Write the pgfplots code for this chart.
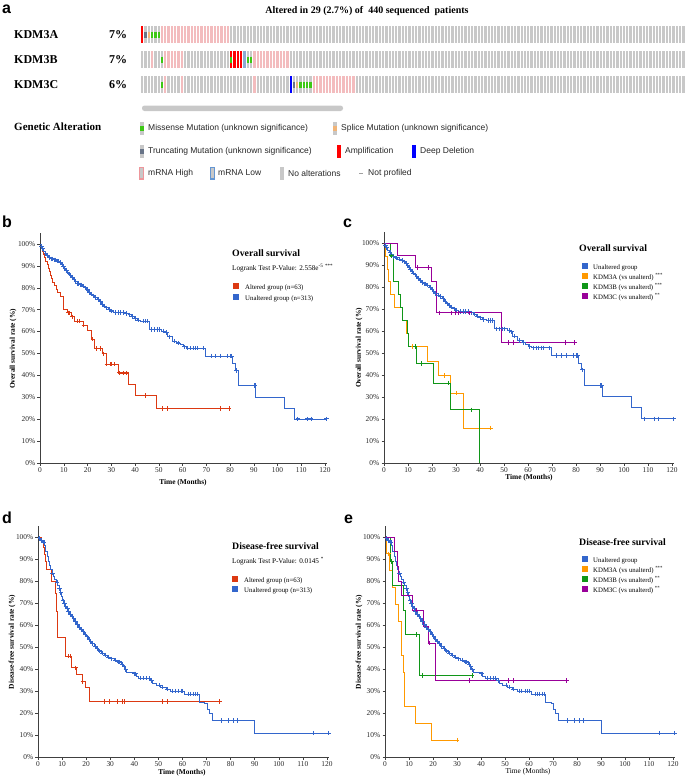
\documentclass[border=0pt]{standalone}
\usepackage{fontspec}
\setmainfont{Liberation Serif}
\setsansfont{Liberation Sans}
\usepackage{pgfplots}
\pgfplotsset{compat=1.18}
\usepackage{pgfplotstable}

\definecolor{kmblue}{RGB}{51,102,204}
\definecolor{kmred}{RGB}{220,57,18}
\definecolor{kmorange}{RGB}{255,153,0}
\definecolor{kmgreen}{RGB}{16,150,24}
\definecolor{kmpurple}{RGB}{153,0,153}
\definecolor{opgray}{RGB}{200,200,200}
\definecolor{oppink}{RGB}{243,188,190}
\definecolor{oppinkb}{RGB}{238,150,155}
\definecolor{opgreen}{RGB}{60,200,20}
\definecolor{optrunc}{RGB}{104,116,136}
\definecolor{opsplice}{RGB}{240,180,120}
\definecolor{opamp}{RGB}{255,0,0}
\definecolor{opdel}{RGB}{0,0,255}
\definecolor{oplow}{RGB}{140,170,210}
\definecolor{oplowb}{RGB}{100,150,210}

% ---------- oncoprint samples (x index, y centre of the row) ----------
\pgfplotstableread[row sep=\\]{x y\\
0 .5\\1 .5\\2 .5\\3 .5\\4 .5\\5 .5\\6 .5\\7 .5\\8 .5\\9 .5\\
10 .5\\11 .5\\12 .5\\13 .5\\14 .5\\15 .5\\16 .5\\17 .5\\18 .5\\19 .5\\
20 .5\\21 .5\\22 .5\\23 .5\\24 .5\\25 .5\\26 .5\\27 .5\\28 .5\\29 .5\\
30 .5\\31 .5\\32 .5\\33 .5\\34 .5\\35 .5\\36 .5\\37 .5\\38 .5\\39 .5\\
40 .5\\41 .5\\42 .5\\43 .5\\44 .5\\45 .5\\46 .5\\47 .5\\48 .5\\49 .5\\
50 .5\\51 .5\\52 .5\\53 .5\\54 .5\\55 .5\\56 .5\\57 .5\\58 .5\\59 .5\\
60 .5\\61 .5\\62 .5\\63 .5\\64 .5\\65 .5\\66 .5\\67 .5\\68 .5\\69 .5\\
70 .5\\71 .5\\72 .5\\73 .5\\74 .5\\75 .5\\76 .5\\77 .5\\78 .5\\79 .5\\
80 .5\\81 .5\\82 .5\\83 .5\\84 .5\\85 .5\\86 .5\\87 .5\\88 .5\\89 .5\\
90 .5\\91 .5\\92 .5\\93 .5\\94 .5\\95 .5\\96 .5\\97 .5\\98 .5\\99 .5\\
100 .5\\101 .5\\102 .5\\103 .5\\104 .5\\105 .5\\106 .5\\107 .5\\108 .5\\109 .5\\
110 .5\\111 .5\\112 .5\\113 .5\\114 .5\\115 .5\\116 .5\\117 .5\\118 .5\\119 .5\\
120 .5\\121 .5\\122 .5\\123 .5\\124 .5\\125 .5\\126 .5\\127 .5\\128 .5\\129 .5\\
130 .5\\131 .5\\132 .5\\133 .5\\134 .5\\135 .5\\136 .5\\137 .5\\138 .5\\139 .5\\
140 .5\\141 .5\\142 .5\\143 .5\\144 .5\\145 .5\\146 .5\\147 .5\\148 .5\\149 .5\\
150 .5\\151 .5\\152 .5\\153 .5\\154 .5\\155 .5\\156 .5\\157 .5\\158 .5\\159 .5\\
160 .5\\161 .5\\162 .5\\163 .5\\164 .5\\
}\samp

% ---------- Overall survival ----------
\pgfplotstableread{
x y
0 100
0.4 99.0
0.9 98.0
1.5 96.8
2.2 95.6
2.9 94.6
3.6 93.8
4.6 93.2
5.8 92.7
7.0 92.1
8.2 91.5
9.0 90.6
9.6 89.7
10.2 88.8
10.8 88.0
11.4 87.1
12.0 86.3
12.7 85.5
13.4 84.6
14.1 83.7
14.8 82.8
15.6 82.0
16.6 81.4
17.8 80.8
18.8 80.0
19.6 79.0
20.4 78.0
21.2 77.1
22.0 76.3
23.0 75.6
24.2 74.8
25.2 73.6
25.9 72.4
26.8 71.6
27.8 70.8
28.8 70.1
29.8 69.4
31.0 68.8
36.0 68.3
37.2 67.6
38.4 66.8
39.6 66.0
41.0 65.2
42.5 64.7
46.2 61.0
51.3 60.2
52.8 59.6
53.6 57.6
55.8 55.6
57.5 54.8
59.0 53.9
60.2 53.0
61.5 52.4
69.6 48.8
81.2 45.4
82.2 42.3
83.5 35.3
90.9 30.1
102.9 25.1
107.3 20.1
120.7 20.1
}\bos
\pgfplotstableread{
x y
0.7 99.0
1.2 98.0
2.5 95.6
3.2 94.6
4.0 93.8
5.0 93.2
5.4 93.2
6.3 92.7
6.6 92.7
7.5 92.1
7.8 92.1
8.6 91.5
9.3 90.6
9.9 89.7
10.5 88.8
11.1 88.0
11.7 87.1
12.3 86.3
13.0 85.5
13.7 84.6
14.4 83.7
15.1 82.8
15.9 82.0
16.2 82.0
17.0 81.4
17.4 81.4
18.3 80.8
19.2 80.0
20.0 79.0
20.8 78.0
21.6 77.1
22.5 76.3
23.5 75.6
24.6 74.8
25.5 73.6
26.3 72.4
27.2 71.6
28.2 70.8
29.3 70.1
30.3 69.4
31.8 68.8
33.0 68.8
34.0 68.8
35.0 68.8
36.5 68.3
37.8 67.6
38.9 66.8
40.2 66.0
41.5 65.2
43.5 64.7
44.5 64.7
45.3 64.7
47.0 61.0
48.2 61.0
49.4 61.0
50.4 61.0
52.2 60.2
53.2 59.6
54.5 57.6
56.5 55.6
58.2 54.8
60.8 53.0
62.3 52.4
63.5 52.4
64.5 52.4
65.5 52.4
66.5 52.4
68.8 52.4
72.0 48.8
74.0 48.8
76.2 48.8
79.0 48.8
80.0 48.8
80.7 48.8
82.7 42.3
90.3 35.3
90.6 35.3
108.6 20.1
112.6 20.1
114.2 20.1
120.7 20.1
}\bosc
\pgfplotstableread{
x y
0 100
0.5 98.4
1.0 96.8
1.5 95.2
2.0 93.7
2.5 92.1
3.0 90.5
3.4 88.9
3.8 87.3
4.3 85.7
4.8 84.1
5.4 82.5
6.0 80.9
6.8 79.4
7.4 77.8
8.6 76.2
10.0 70.2
11.6 68.6
13.4 66.7
14.3 64.7
18.2 62.9
20.0 60.6
21.8 56.5
23.0 52.2
26.4 49.9
27.8 45.1
33.0 41.1
37.3 35.9
40.1 30.9
49.0 24.8
79.6 24.8
}\ros
\pgfplotstableread{
x y
12.0 68.6
12.6 68.6
13.7 66.7
15.6 64.7
16.5 64.7
18.5 62.9
22.3 56.5
23.7 52.2
25.4 52.2
26.9 49.9
28.1 45.1
29.5 45.1
30.2 45.1
31.2 45.1
33.4 41.1
35.3 41.1
36.4 41.1
44.4 30.9
51.5 24.8
53.8 24.8
76.1 24.8
79.6 24.8
}\rosc
\pgfplotstableread{
x y
0 100
0.8 94.1
1.5 88.2
2.0 82.4
2.5 76.5
4.5 70.6
7.6 64.7
9.3 58.8
10.1 52.9
18.0 46.3
22.5 39.7
27.6 31.8
32.9 15.9
44.4 15.9
}\oos
\pgfplotstableread{
x y
12.0 52.9
25.0 39.7
30.0 31.8
44.4 15.9
}\oosc
\pgfplotstableread{
x y
0 100
2.6 94.1
3.8 82.3
6.1 76.5
7.0 70.6
7.8 64.7
9.8 58.8
10.1 52.9
13.6 45.3
20.7 36.3
27.6 24.2
39.9 0
}\gos
\pgfplotstableread{
x y
3.2 94.1
13.0 52.9
15.8 45.3
27.0 36.3
36.3 24.2
}\gosc
\pgfplotstableread{
x y
0 100
5.8 94.4
13.1 88.9
19.7 82.3
21.8 68.3
48.9 54.7
79.4 54.7
}\pos
\pgfplotstableread{
x y
13.75 88.9
18.6 88.9
23.0 68.3
28.0 68.3
29.7 68.3
31.1 68.3
35.6 68.3
51.7 54.7
53.9 54.7
75.6 54.7
79.4 54.7
}\posc

% ---------- Disease-free survival ----------
\pgfplotstableread{
x y
0 100
0.6 99.3
1.2 98.6
2.0 97.6
2.8 96.0
3.3 93.5
3.8 91.0
4.3 89.0
4.8 87.0
5.3 85.2
5.8 83.6
6.4 82.2
7.0 80.8
7.6 79.5
8.2 78.0
8.8 76.6
9.3 74.8
9.8 72.8
10.2 71.0
10.7 69.8
11.3 68.6
11.9 67.4
12.5 66.2
13.0 64.8
13.8 63.8
14.6 62.8
15.3 61.6
16.0 60.2
16.8 59.0
17.6 57.8
18.4 57.0
19.2 55.8
20.0 54.6
20.8 53.5
21.6 52.4
22.4 51.4
23.3 50.3
24.2 49.3
25.2 48.2
26.4 47.2
27.6 46.3
28.8 45.4
30.0 44.6
31.6 44.0
33.0 43.2
34.6 42.2
35.4 41.0
36.2 39.6
36.8 38.6
39.8 37.8
40.8 36.8
41.8 35.8
46.6 34.8
47.6 33.6
49.0 32.6
51.0 31.8
53.2 30.8
55.2 30.0
61.0 28.6
67.0 25.0
69.2 24.2
70.2 21.8
71.0 19.6
72.4 16.6
90.0 10.9
120.7 10.9
}\bdfs
\pgfplotstableread{
x y
0.8 99.3
1.4 98.6
2.2 97.6
2.6 97.6
6.0 83.6
7.9 79.5
9.0 76.6
9.5 74.8
10.5 71.0
11.0 69.8
11.6 68.6
12.2 67.4
12.7 66.2
13.4 64.8
14.2 63.8
14.9 62.8
15.6 61.6
16.4 60.2
17.2 59.0
18.0 57.8
18.8 57.0
19.6 55.8
20.4 54.6
21.2 53.5
22.0 52.4
22.8 51.4
23.7 50.3
24.6 49.3
25.7 48.2
26.8 47.2
28.0 46.3
29.3 45.4
30.6 44.6
32.2 44.0
33.5 43.2
34.0 43.2
35.0 42.2
35.8 41.0
36.5 39.6
40.0 37.8
40.5 37.8
42.5 35.8
44.0 35.8
45.0 35.8
46.2 35.8
47.2 34.8
50.5 32.6
51.8 31.8
53.6 30.8
56.0 30.0
57.0 30.0
58.5 30.0
59.5 30.0
60.0 30.0
62.5 28.6
63.5 28.6
64.5 28.6
65.5 28.6
66.3 28.6
76.2 16.6
79.0 16.6
81.0 16.6
82.8 16.6
114.2 10.9
120.7 10.9
}\bdfsc
\pgfplotstableread{
x y
0 100
1.5 98.4
2.2 95.2
2.8 91.9
3.2 88.7
3.6 85.2
5.4 79.8
7.2 74.3
7.5 70.5
7.8 66.2
8.0 61.5
8.2 54.4
11.4 45.8
13.7 40.5
15.9 37.4
18.3 34.4
19.9 31.4
21.3 25.3
75.3 25.3
}\rdfs
\pgfplotstableread{
x y
12.7 45.8
13.3 45.8
15.5 40.5
18.6 34.4
27.6 25.3
29.6 25.3
33.1 25.3
34.9 25.3
35.9 25.3
51.5 25.3
53.6 25.3
75.3 25.3
}\rdfsc
\pgfplotstableread{
x y
0 100
0.8 92.3
1.8 84.6
3.3 76.9
4.5 69.2
5.6 61.5
6.9 46.2
7.5 38.5
7.9 30.8
8.3 23.1
12.8 15.4
19.5 7.7
30.0 7.7
}\odfs
\pgfplotstableread{
x y
1.5 92.3
30.0 7.7
}\odfsc
\pgfplotstableread{
x y
0 100
2.4 88.9
3.2 77.8
7.6 66.7
8.5 55.6
14.2 37.0
36.3 37.0
}\gdfs
\pgfplotstableread{
x y
2.9 88.9
13.1 55.6
15.6 37.0
36.3 37.0
}\gdfsc
\pgfplotstableread{
x y
0 100
3.8 93.3
5.2 86.7
5.8 80.0
6.8 73.3
11.4 66.7
15.9 59.3
18.3 51.8
21.2 34.8
75.8 34.8
}\pdfs
\pgfplotstableread{
x y
13.3 66.7
18.7 51.8
35.0 34.8
51.5 34.8
53.6 34.8
75.8 34.8
}\pdfsc

\pgfplotsset{
  onc/.style={scale only axis, hide axis, anchor=south west, width=544pt, height=17pt,
    xmin=-0.364, xmax=164.49, ymin=0, ymax=1},
  full/.style={only marks, mark=|, mark size=8.5pt, color=#1, mark options={line width=2.3pt}},
  mid/.style={only marks, mark=|, mark size=3pt, color=#1, mark options={line width=2.3pt}},
  km/.style={scale only axis, anchor=south west, axis x line*=bottom, axis y line*=left,
    xmin=0, xmax=121, ymin=0, ymax=105, xtick={0,10,...,120}, ytick={0,10,...,100},
    yticklabel={\pgfmathprintnumber{\tick}\%},
    /pgf/number format/assume math mode=true,
    tick align=outside, major tick length=2.5pt,
    every tick/.style={black!75, line width=0.5pt},
    axis line style={black!75, line width=0.6pt},
    tick label style={font=\fontsize{7.4}{8}\selectfont, text=black!85},
    xticklabel style={inner sep=1.5pt}, yticklabel style={inner sep=2pt}},
  kmline/.style={const plot, mark=none, line width=0.9pt, color=#1},
  kmcens/.style={only marks, mark=+, mark size=2.2pt, color=#1, mark options={line width=1pt}},
}

\newcommand{\sq}[1]{\textcolor{#1}{\rule{6pt}{6pt}}}
\newcommand{\swmid}[1]{\rlap{\textcolor{opgray}{\rule{4pt}{13pt}}}\raisebox{4pt}{\textcolor{#1}{\rule{4pt}{5pt}}}}
\newcommand{\swfull}[1]{\textcolor{#1}{\rule{4pt}{13pt}}}
\newcommand{\swbox}[1]{{\setlength{\fboxsep}{0pt}\setlength{\fboxrule}{1.2pt}\fcolorbox{#1}{opgray}{\rule{0pt}{10.6pt}\rule{2.6pt}{0pt}}}}

\begin{document}
\begin{tikzpicture}[x=1pt,y=-1pt]
\useasboundingbox (0,0) rectangle (685,780);

% ================= panel a =================
\node[anchor=base west, inner sep=0, font=\sffamily\bfseries\fontsize{16}{16}\selectfont] at (2,13) {a};
\node[anchor=base, inner sep=0, font=\bfseries\fontsize{10}{12}\selectfont] at (367,13.5) {Altered in 29 (2.7\%) of\ \ 440 sequenced\ \ patients};

\begin{scope}[every node/.style={anchor=west, inner sep=0, font=\bfseries\fontsize{12}{14}\selectfont}]
\node at (14,34.5) {KDM3A};
\node at (14,59.5) {KDM3B};
\node at (14,84.5) {KDM3C};
\node at (109,34.5) {7\%};
\node at (109,59.5) {7\%};
\node at (109,84.5) {6\%};
\end{scope}

% row KDM3A
\begin{axis}[onc, at={(141pt,-43pt)}]
\addplot[full=opgray] table {\samp};
\addplot[full=opamp] coordinates {(0,.5)};
\addplot[full=oppink] coordinates {(6,.5)(7,.5)(8,.5)(9,.5)(10,.5)(11,.5)(12,.5)(13,.5)(14,.5)(15,.5)(16,.5)(17,.5)(18,.5)(19,.5)(20,.5)(21,.5)(22,.5)(23,.5)(24,.5)(25,.5)(26,.5)};
\addplot[mid=optrunc] coordinates {(1,.5)};
\addplot[mid=opsplice] coordinates {(2,.5)};
\addplot[mid=opgreen] coordinates {(3,.5)(4,.5)(5,.5)};
\end{axis}
% row KDM3B
\begin{axis}[onc, at={(141pt,-68pt)}]
\addplot[full=opgray] table {\samp};
\addplot[full=oppink] coordinates {(3,.5)(7,.5)(8,.5)(9,.5)(10,.5)(11,.5)(12,.5)(34,.5)(35,.5)(36,.5)(37,.5)(38,.5)(39,.5)(40,.5)(41,.5)(42,.5)(43,.5)(44,.5)};
\addplot[full=opamp] coordinates {(27,.5)(28,.5)(29,.5)(30,.5)};
\addplot[full=oplow] coordinates {(31,.5)};
\addplot[mid=opgreen] coordinates {(6,.5)(27,.5)(32,.5)(33,.5)};
\end{axis}
% row KDM3C
\begin{axis}[onc, at={(141pt,-93pt)}]
\addplot[full=opgray] table {\samp};
\addplot[full=oppink] coordinates {(7,.5)(12,.5)(34,.5)(52,.5)(53,.5)(54,.5)(55,.5)(56,.5)(57,.5)(58,.5)(59,.5)(60,.5)(61,.5)(62,.5)(63,.5)(64,.5)};
\addplot[full=opdel] coordinates {(45,.5)};
\addplot[mid=optrunc] coordinates {(46,.5)};
\addplot[mid=opsplice] coordinates {(47,.5)};
\addplot[mid=opgreen] coordinates {(6,.5)(48,.5)(49,.5)(50,.5)(51,.5)};
\end{axis}

% scrollbar
\fill[opgray, rounded corners=2.5pt] (142,105.5) rectangle (343,111);

% legend of panel a
\node[anchor=west, inner sep=0, font=\bfseries\fontsize{11}{13}\selectfont] at (14,127) {Genetic Alteration};
\begin{scope}[every node/.style={anchor=west, inner sep=0, font=\sffamily\fontsize{8.5}{10}\selectfont, text=black!85}]
\node at (140,128) {\swmid{opgreen}};
\node at (148,128) {Missense Mutation (unknown significance)};
\node at (333,128) {\swmid{opsplice}};
\node at (341,128) {Splice Mutation (unknown significance)};
\node at (140,151) {\swmid{optrunc}};
\node at (148,151) {Truncating Mutation (unknown significance)};
\node at (337,151) {\swfull{opamp}};
\node at (345,151) {Amplification};
\node at (412,151) {\swfull{opdel}};
\node at (420,151) {Deep Deletion};
\node at (139,173) {\swbox{oppinkb}};
\node at (148,173) {mRNA High};
\node at (210,173) {\swbox{oplowb}};
\node at (218,173) {mRNA Low};
\node at (280,173) {\swfull{opgray}};
\node at (288,173) {No alterations};
\node at (359,173) {\textcolor{opgray!80!black}{\rule{4pt}{0.8pt}}};
\node at (368,173) {Not profiled};
\end{scope}

% ================= panel b =================
\node[anchor=base west, inner sep=0, font=\sffamily\bfseries\fontsize{16}{16}\selectfont] at (2,227) {b};
\begin{axis}[km, at={(40pt,-463pt)}, width=287.4pt, height=230pt]
\addplot[kmline=kmred] table {\ros};
\addplot[kmline=kmblue] table {\bos};
\addplot[kmcens=kmred] table {\rosc};
\addplot[kmcens=kmblue] table {\bosc};
\end{axis}
\node[rotate=90, inner sep=0, font=\bfseries\fontsize{7.4}{9}\selectfont] at (13,349) {Overall survival rate (\%)};
\node[inner sep=0, font=\bfseries\fontsize{7.4}{9}\selectfont] at (183,483) {Time (Months)};
\node[anchor=west, inner sep=0, font=\bfseries\fontsize{9.8}{11}\selectfont] at (232,253) {Overall survival};
\node[anchor=west, inner sep=0, font=\fontsize{7.2}{9}\selectfont] at (232,268) {Logrank Test P-Value: 2.558e\textsuperscript{-5} \textsuperscript{***}};
\node[anchor=west, inner sep=0, font=\fontsize{6.8}{8}\selectfont] at (233,287) {\sq{kmred}\hspace{6pt}Altered group (n=63)};
\node[anchor=west, inner sep=0, font=\fontsize{6.8}{8}\selectfont] at (233,298) {\sq{kmblue}\hspace{6pt}Unaltered group (n=313)};

% ================= panel c =================
\node[anchor=base west, inner sep=0, font=\sffamily\bfseries\fontsize{16}{16}\selectfont] at (343,227) {c};
\begin{axis}[km, at={(384pt,-463pt)}, width=290.4pt, height=231pt]
\addplot[kmline=kmblue] table {\bos};
\addplot[kmline=kmorange] table {\oos};
\addplot[kmline=kmgreen] table {\gos};
\addplot[kmline=kmpurple] table {\pos};
\addplot[kmcens=kmblue] table {\bosc};
\addplot[kmcens=kmorange] table {\oosc};
\addplot[kmcens=kmgreen] table {\gosc};
\addplot[kmcens=kmpurple] table {\posc};
\end{axis}
\node[rotate=90, inner sep=0, font=\bfseries\fontsize{7.4}{9}\selectfont] at (359,348) {Overall survival rate (\%)};
\node[inner sep=0, font=\bfseries\fontsize{7.4}{9}\selectfont] at (529,478) {Time (Months)};
\node[anchor=west, inner sep=0, font=\bfseries\fontsize{9.8}{11}\selectfont] at (579,248) {Overall survival};
\begin{scope}[every node/.style={anchor=west, inner sep=0, font=\fontsize{6.8}{8}\selectfont}]
\node at (582,267) {\sq{kmblue}\hspace{5pt}Unaltered group};
\node at (582,277) {\sq{kmorange}\hspace{5pt}KDM3A (vs unalterd) \textsuperscript{***}};
\node at (582,287) {\sq{kmgreen}\hspace{5pt}KDM3B (vs unalterd) \textsuperscript{***}};
\node at (582,297) {\sq{kmpurple}\hspace{5pt}KDM3C (vs unalterd) \textsuperscript{**}};
\end{scope}

% ================= panel d =================
\node[anchor=base west, inner sep=0, font=\sffamily\bfseries\fontsize{16}{16}\selectfont] at (2,523) {d};
\begin{axis}[km, at={(38pt,-757pt)}, width=291.4pt, height=231pt]
\addplot[kmline=kmred] table {\rdfs};
\addplot[kmline=kmblue] table {\bdfs};
\addplot[kmcens=kmred] table {\rdfsc};
\addplot[kmcens=kmblue] table {\bdfsc};
\end{axis}
\node[rotate=90, inner sep=0, font=\bfseries\fontsize{7.4}{9}\selectfont] at (12,642) {Disease-free survival rate (\%)};
\node[inner sep=0, font=\bfseries\fontsize{7.4}{9}\selectfont] at (182,773) {Time (Months)};
\node[anchor=west, inner sep=0, font=\bfseries\fontsize{9.8}{11}\selectfont] at (232,546) {Disease-free survival};
\node[anchor=west, inner sep=0, font=\fontsize{7.2}{9}\selectfont] at (232,561) {Logrank Test P-Value: 0.0145 \textsuperscript{*}};
\node[anchor=west, inner sep=0, font=\fontsize{6.8}{8}\selectfont] at (232,580) {\sq{kmred}\hspace{6pt}Altered group (n=63)};
\node[anchor=west, inner sep=0, font=\fontsize{6.8}{8}\selectfont] at (232,590) {\sq{kmblue}\hspace{6pt}Unaltered group (n=313)};

% ================= panel e =================
\node[anchor=base west, inner sep=0, font=\sffamily\bfseries\fontsize{16}{16}\selectfont] at (344,523) {e};
\begin{axis}[km, at={(385pt,-757pt)}, width=290.4pt, height=231pt]
\addplot[kmline=kmblue] table {\bdfs};
\addplot[kmline=kmorange] table {\odfs};
\addplot[kmline=kmgreen] table {\gdfs};
\addplot[kmline=kmpurple] table {\pdfs};
\addplot[kmcens=kmblue] table {\bdfsc};
\addplot[kmcens=kmorange] table {\odfsc};
\addplot[kmcens=kmgreen] table {\gdfsc};
\addplot[kmcens=kmpurple] table {\pdfsc};
\end{axis}
\node[rotate=90, inner sep=0, font=\bfseries\fontsize{7.4}{9}\selectfont] at (359,642) {Disease-free survival rate (\%)};
\node[inner sep=0, font=\fontsize{7.4}{9}\selectfont] at (528,772) {Time (Months)};
\node[anchor=west, inner sep=0, font=\bfseries\fontsize{9.8}{11}\selectfont] at (579,542) {Disease-free survival};
\begin{scope}[every node/.style={anchor=west, inner sep=0, font=\fontsize{6.8}{8}\selectfont}]
\node at (582,560) {\sq{kmblue}\hspace{5pt}Unaltered group};
\node at (582,570) {\sq{kmorange}\hspace{5pt}KDM3A (vs unalterd) \textsuperscript{***}};
\node at (582,580) {\sq{kmgreen}\hspace{5pt}KDM3B (vs unalterd) \textsuperscript{**}};
\node at (582,590) {\sq{kmpurple}\hspace{5pt}KDM3C (vs unalterd) \textsuperscript{**}};
\end{scope}

\end{tikzpicture}
\end{document}
